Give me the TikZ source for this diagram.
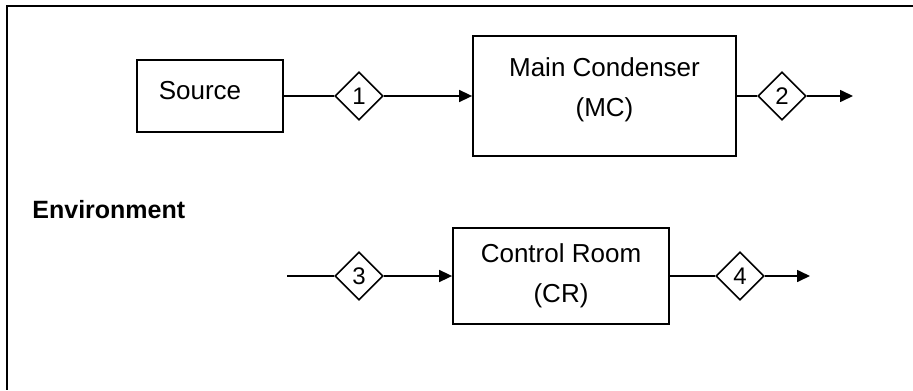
\documentclass[tikz,border=0pt]{standalone}
\usepackage{fontspec}
\setmainfont{Liberation Sans}
\usetikzlibrary{arrows.meta, shapes.geometric}

\begin{document}
\begin{tikzpicture}[x=0.5pt, y=-0.5pt, >={Triangle[length=6.5pt, width=6pt]},
  unit/.style={draw, line width=0.9pt, align=center, inner sep=0pt,
    font=\fontsize{13}{20}\selectfont},
  stream/.style={draw, diamond, line width=0.8pt, inner sep=0pt,
    minimum width=24pt, minimum height=24pt, font=\fontsize{12}{12}\selectfont},
  flow/.style={line width=0.8pt}]
\useasboundingbox (0,0) rectangle (913,390);
% frame
\draw[line width=1.1pt] (913,6) -- (7,6) -- (7,390);
% units
\node[unit, minimum width=73pt, minimum height=36pt] (src) at (210,96) {Source\hspace*{10pt}\\[-14pt]\mbox{}};
\node[unit, minimum width=131.5pt, minimum height=60pt] (mc) at (604.5,96) {Main Condenser\\(MC)\\[-11pt]\mbox{}};
\node[unit, minimum width=108pt, minimum height=48pt] (cr) at (561,276) {Control Room\\(CR)};
\node[font=\fontsize{12.5}{14}\selectfont\bfseries, anchor=west, inner sep=0pt] (env) at (32,210) {Environment};
% streams
\node[stream] (s1) at (359,96) {1};
\node[stream] (s2) at (782,96) {2};
\node[stream] (s3) at (359,276) {3};
\node[stream] (s4) at (740,276) {4};
\coordinate (in3) at (287,276);
\coordinate (out2) at (853,96);
\coordinate (out4) at (810,276);
\draw[flow] (src) -- (s1);
\draw[flow, ->] (s1) -- (mc);
\draw[flow] (mc) -- (s2);
\draw[flow, ->] (s2) -- (out2);
\draw[flow] (in3) -- (s3);
\draw[flow, ->] (s3) -- (cr);
\draw[flow] (cr) -- (s4);
\draw[flow, ->] (s4) -- (out4);
\end{tikzpicture}
\end{document}
